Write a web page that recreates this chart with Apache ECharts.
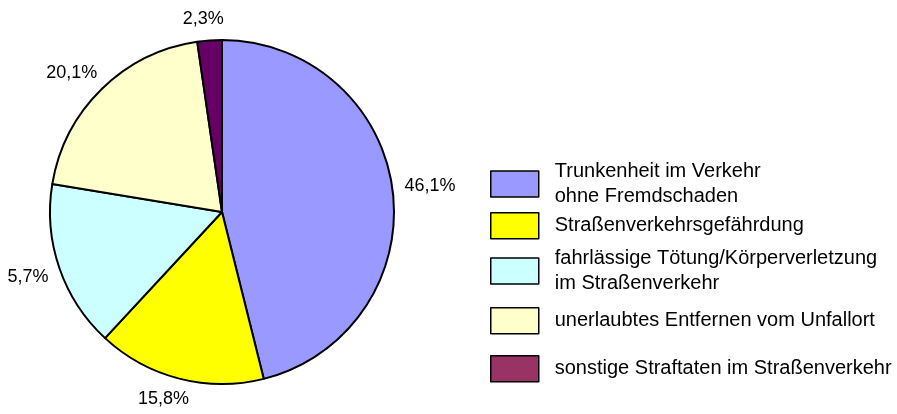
<!DOCTYPE html>
<html>
<head>
<meta charset="utf-8">
<script src="https://cdn.jsdelivr.net/npm/echarts@6/dist/echarts.min.js"></script>
<style>
  html, body { margin: 0; padding: 0; background: #fff; }
  #chart { width: 897px; height: 414px; }
</style>
</head>
<body>
<div id="chart"></div>
<script>
const names = [
  'Trunkenheit im Verkehr\nohne Fremdschaden',
  'Straßenverkehrsgefährdung',
  'fahrlässige Tötung/Körperverletzung\nim Straßenverkehr',
  'unerlaubtes Entfernen vom Unfallort',
  'sonstige Straftaten im Straßenverkehr'
]
// slice sizes as drawn; the printed labels are kept as they appear
const values = [46.1, 15.8, 15.7, 20.1, 2.3]
const labels = ['46,1%', '15,8%', '5,7%', '20,1%', '2,3%']
const colors = ['#9999FF', '#FFFF00', '#CCFFFF', '#FFFFCC', '#660066']
const legendColors = ['#9999FF', '#FFFF00', '#CCFFFF', '#FFFFCC', '#993366']
const legendTops = [159, 212, 246, 307, 355]

const font = '"Liberation Sans", Arial, sans-serif'
const cx = 222, cy = 212, r = 172

// mid angle of each slice (clockwise from 12 o'clock)
const total = values.reduce((a, b) => a + b, 0)
let acc = 0
const mids = values.map(v => {
  const m = (acc + v / 2) / total * Math.PI * 2
  acc += v
  return m
})

const chart = echarts.init(document.getElementById('chart'))
chart.setOption({
  animation: false,
  legend: names.map((n, i) => ({
    orient: 'vertical',
    left: 490,
    top: legendTops[i],
    padding: 0,
    itemWidth: 48,
    itemHeight: 26,
    icon: 'rect',
    selectedMode: false,
    data: [{
      name: n,
      itemStyle: { color: legendColors[i], borderColor: '#000', borderWidth: 1.5 }
    }],
    textStyle: {
      fontFamily: font,
      fontSize: 20,
      lineHeight: 25,
      color: '#000',
      padding: [0, 0, 0, 11]
    }
  })),
  series: [{
    type: 'pie',
    center: [cx, cy],
    radius: r,
    startAngle: 90,
    clockwise: true,
    silent: true,
    itemStyle: { borderColor: '#000', borderWidth: 2 },
    label: {
      position: 'outside',
      fontFamily: font,
      fontSize: 18,
      color: '#000',
      overflow: 'none',
      formatter: p => labels[p.dataIndex]
    },
    labelLine: { show: false, length: 8, length2: 0 },
    labelLayout: p => {
      const a = mids[p.dataIndex]
      const dx = Math.sin(a), dy = -Math.cos(a)
      const w = p.labelRect.width, h = p.labelRect.height
      const d = r + 12
      return {
        x: cx + d * dx + Math.sign(dx) * Math.sqrt(Math.abs(dx)) * w / 2,
        y: cy + d * dy + Math.sign(dy) * Math.sqrt(Math.abs(dy)) * h / 2,
        align: 'center',
        verticalAlign: 'middle',
        hideOverlap: false
      }
    },
    data: names.map((n, i) => ({
      name: n,
      value: values[i],
      itemStyle: { color: colors[i] }
    }))
  }]
})
window.addEventListener('resize', () => chart.resize())
</script>
</body>
</html>
